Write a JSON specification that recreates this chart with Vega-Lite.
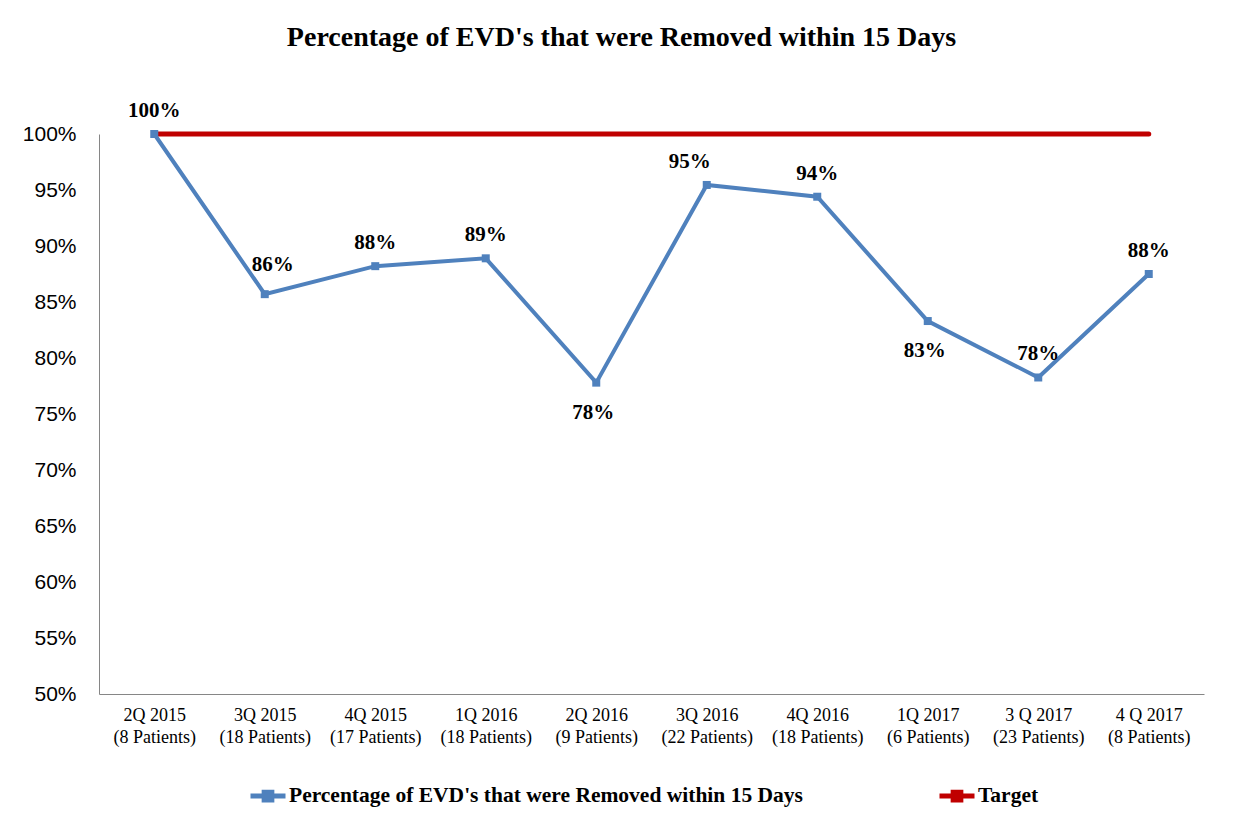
{
  "$schema": "https://vega.github.io/schema/vega-lite/v6.json",
  "width": 1105,
  "height": 560,
  "padding": {"left": 22, "right": 33, "top": 24, "bottom": 5},
  "background": "white",
  "title": {
    "text": "Percentage of EVD's that were Removed within 15 Days",
    "font": "Liberation Serif",
    "fontSize": 28,
    "fontWeight": "bold",
    "color": "black",
    "anchor": "middle",
    "frame": "group",
    "dx": -30,
    "offset": 48
  },
  "data": {
    "values": [
      {"quarter": "2Q 2015|(8 Patients)", "series": "Percentage of EVD's that were Removed within 15 Days", "value": 1.0},
      {"quarter": "3Q 2015|(18 Patients)", "series": "Percentage of EVD's that were Removed within 15 Days", "value": 0.857},
      {"quarter": "4Q 2015|(17 Patients)", "series": "Percentage of EVD's that were Removed within 15 Days", "value": 0.882},
      {"quarter": "1Q 2016|(18 Patients)", "series": "Percentage of EVD's that were Removed within 15 Days", "value": 0.889},
      {"quarter": "2Q 2016|(9 Patients)", "series": "Percentage of EVD's that were Removed within 15 Days", "value": 0.778},
      {"quarter": "3Q 2016|(22 Patients)", "series": "Percentage of EVD's that were Removed within 15 Days", "value": 0.9545},
      {"quarter": "4Q 2016|(18 Patients)", "series": "Percentage of EVD's that were Removed within 15 Days", "value": 0.944},
      {"quarter": "1Q 2017|(6 Patients)", "series": "Percentage of EVD's that were Removed within 15 Days", "value": 0.833},
      {"quarter": "3 Q 2017|(23 Patients)", "series": "Percentage of EVD's that were Removed within 15 Days", "value": 0.7826},
      {"quarter": "4 Q 2017|(8 Patients)", "series": "Percentage of EVD's that were Removed within 15 Days", "value": 0.875},
      {"quarter": "2Q 2015|(8 Patients)", "series": "Target", "value": 1.0},
      {"quarter": "3Q 2015|(18 Patients)", "series": "Target", "value": 1.0},
      {"quarter": "4Q 2015|(17 Patients)", "series": "Target", "value": 1.0},
      {"quarter": "1Q 2016|(18 Patients)", "series": "Target", "value": 1.0},
      {"quarter": "2Q 2016|(9 Patients)", "series": "Target", "value": 1.0},
      {"quarter": "3Q 2016|(22 Patients)", "series": "Target", "value": 1.0},
      {"quarter": "4Q 2016|(18 Patients)", "series": "Target", "value": 1.0},
      {"quarter": "1Q 2017|(6 Patients)", "series": "Target", "value": 1.0},
      {"quarter": "3 Q 2017|(23 Patients)", "series": "Target", "value": 1.0},
      {"quarter": "4 Q 2017|(8 Patients)", "series": "Target", "value": 1.0}
    ]
  },
  "encoding": {
    "x": {
      "field": "quarter",
      "type": "nominal",
      "sort": null,
      "scale": {"type": "point", "padding": 0.5},
      "axis": {
        "title": null,
        "labelAngle": 0,
        "labelExpr": "split(datum.label, '|')",
        "labelFont": "Liberation Serif",
        "labelFontSize": 18,
        "labelColor": "black",
        "labelLineHeight": 22,
        "labelPadding": 12,
        "ticks": false,
        "domainColor": "#868686",
        "labelBaseline": "top"
      }
    },
    "y": {
      "field": "value",
      "type": "quantitative",
      "scale": {"domain": [0.5, 1.0], "nice": false, "zero": false},
      "axis": {
        "title": null,
        "values": [0.5, 0.55, 0.6, 0.65, 0.7, 0.75, 0.8, 0.85, 0.9, 0.95, 1.0],
        "format": ".0%",
        "grid": false,
        "ticks": false,
        "labelFont": "Liberation Sans",
        "labelFontSize": 21,
        "labelColor": "black",
        "labelPadding": 23,
        "domainColor": "#868686"
      }
    }
  },
  "layer": [
    {
      "transform": [{"filter": "datum.series === 'Target'"}],
      "mark": {"type": "line", "strokeWidth": 5, "strokeCap": "round"},
      "encoding": {
        "color": {
          "field": "series",
          "type": "nominal",
          "scale": {
            "domain": ["Percentage of EVD's that were Removed within 15 Days", "Target"],
            "range": ["#4F81BD", "#C00000"]
          },
          "legend": {
            "title": null,
            "orient": "none",
            "legendX": 149,
            "legendY": 642,
            "direction": "horizontal",
            "labelFont": "Liberation Serif",
            "labelFontWeight": "bold",
            "labelFontSize": 21.5,
            "labelColor": "black",
            "labelLimit": 0,
            "labelOffset": 1,
            "columnPadding": 126,
            "symbolType": "M-1,0H1M-0.22,-0.22H0.22V0.22H-0.22Z",
            "symbolSize": 1225,
            "symbolStrokeWidth": 5
          }
        }
      }
    },
    {
      "transform": [{"filter": "datum.series !== 'Target'"}],
      "mark": {
        "type": "line",
        "strokeWidth": 4,
        "point": {"shape": "square", "size": 64, "filled": true, "color": "#4F81BD"}
      },
      "encoding": {
        "color": {"field": "series", "type": "nominal"}
      }
    },
    {
      "transform": [{"filter": "datum.series !== 'Target' && indexof(['2Q 2016|(9 Patients)', '1Q 2017|(6 Patients)', '3Q 2016|(22 Patients)', '3Q 2015|(18 Patients)'], datum.quarter) < 0"}],
      "mark": {"type": "text", "font": "Liberation Serif", "fontWeight": "bold", "fontSize": 21, "color": "black", "dy": -23},
      "encoding": {"text": {"field": "value", "type": "quantitative", "format": ".0%"}}
    },
    {
      "transform": [{"filter": "datum.quarter === '3Q 2016|(22 Patients)' && datum.series !== 'Target'"}],
      "mark": {"type": "text", "font": "Liberation Serif", "fontWeight": "bold", "fontSize": 21, "color": "black", "dy": -23, "dx": -17},
      "encoding": {"text": {"field": "value", "type": "quantitative", "format": ".0%"}}
    },
    {
      "transform": [{"filter": "datum.quarter === '3Q 2015|(18 Patients)' && datum.series !== 'Target'"}],
      "mark": {"type": "text", "font": "Liberation Serif", "fontWeight": "bold", "fontSize": 21, "color": "black", "dy": -29, "dx": 8},
      "encoding": {"text": {"field": "value", "type": "quantitative", "format": ".0%"}}
    },
    {
      "transform": [{"filter": "datum.series !== 'Target' && indexof(['2Q 2016|(9 Patients)', '1Q 2017|(6 Patients)'], datum.quarter) >= 0"}],
      "mark": {"type": "text", "font": "Liberation Serif", "fontWeight": "bold", "fontSize": 21, "color": "black", "dy": 30, "dx": -3},
      "encoding": {"text": {"field": "value", "type": "quantitative", "format": ".0%"}}
    }
  ],
  "config": {
    "view": {"stroke": null}
  }
}
